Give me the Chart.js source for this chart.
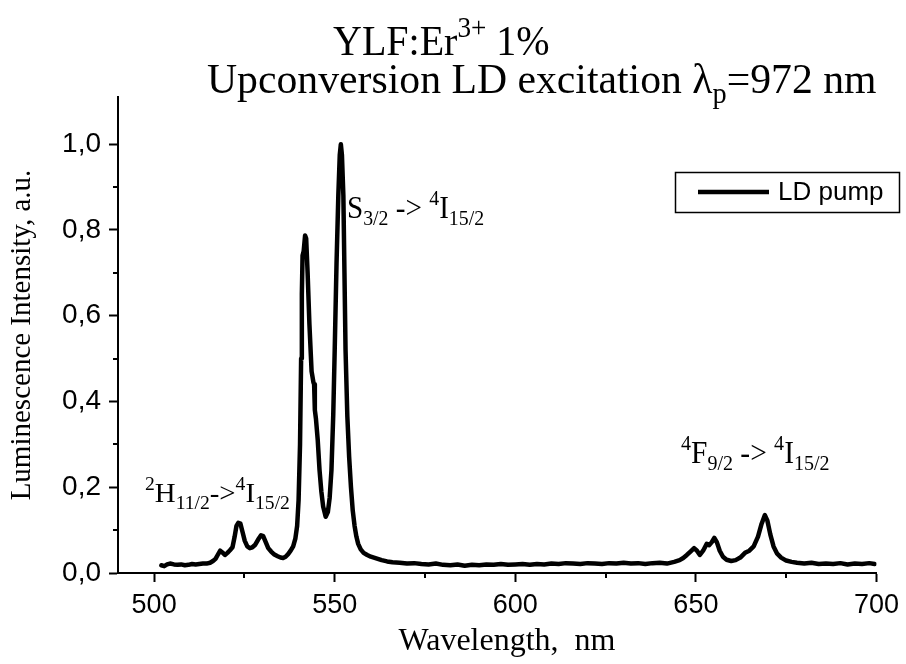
<!DOCTYPE html>
<html>
<head>
<meta charset="utf-8">
<title>YLF:Er 1% upconversion</title>
<script src="https://cdn.jsdelivr.net/npm/chart.js@4"></script>
<style>
  html, body { margin: 0; padding: 0; background: #fff; }
  #wrap { width: 906px; height: 664px; }
</style>
</head>
<body>
<div id="wrap"><canvas id="spectrum" width="906" height="664"></canvas></div>
<script>
// spectrum (nm, normalised intensity)
var wavelength = [
  502.0, 502.8, 503.6, 504.4, 505.5, 506.5, 507.5, 508.5, 509.5, 510.5,
  511.5, 512.5, 513.5, 514.5, 515.5, 516.3, 517.0, 517.6, 518.3, 518.9,
  519.6, 520.3, 521.0, 521.7, 522.3, 522.8, 523.3, 523.9, 524.5, 525.1,
  525.8, 526.5, 527.2, 528.0, 528.8, 529.6, 530.2, 530.9, 531.6, 532.4,
  533.3, 534.2, 535.0, 535.7, 536.4, 537.1, 537.8, 538.5, 539.1, 539.6,
  540.0, 540.4, 540.7, 540.9, 541.1, 541.4, 541.8, 542.1, 542.5, 543.0,
  543.6, 544.1, 544.3, 544.5, 544.8, 545.3, 545.8, 546.3, 546.8, 547.5,
  548.1, 548.6, 549.1, 549.6, 550.0, 550.5, 551.0, 551.4, 551.7, 552.0,
  552.4, 552.7, 553.0, 553.5, 554.0, 554.5, 555.0, 555.5, 556.0, 556.5,
  557.2, 558.0, 559.0, 560.0, 561.5, 563.0, 564.5, 566.0, 568, 570,
  572, 574, 576, 578, 580, 582, 584, 586, 588, 590,
  592, 594, 596, 598, 600, 602, 604, 606, 608, 610,
  612, 614, 616, 618, 620, 622, 624, 626, 628, 630,
  632, 634, 636, 638, 640, 642, 644, 645.5, 646.5, 647.5,
  648.5, 649.5, 650.3, 651.1, 652.0, 653.0, 653.7, 654.4, 655.1, 655.8,
  656.6, 657.5, 658.5, 659.8, 661.0, 662.3, 663.6, 664.8, 666.0, 667.2,
  668.2, 669.1, 669.8, 670.6, 671.5, 672.5, 673.6, 675.0, 676.5, 678,
  680, 682, 684, 686, 688, 690, 692, 694, 696, 698,
  699.5
];
var intensity = [
  0.018, 0.016, 0.020, 0.022, 0.020, 0.019, 0.020, 0.018, 0.019, 0.021,
  0.020, 0.021, 0.022, 0.022, 0.024, 0.028, 0.033, 0.042, 0.052, 0.048,
  0.042, 0.047, 0.053, 0.060, 0.085, 0.110, 0.117, 0.115, 0.095, 0.075,
  0.062, 0.058, 0.060, 0.066, 0.078, 0.088, 0.086, 0.072, 0.058, 0.050,
  0.043, 0.039, 0.036, 0.035, 0.038, 0.044, 0.052, 0.062, 0.080, 0.110,
  0.170, 0.300, 0.500, 0.650, 0.740, 0.750, 0.787, 0.780, 0.700, 0.580,
  0.470, 0.445, 0.440, 0.380, 0.360, 0.310, 0.240, 0.190, 0.155, 0.131,
  0.142, 0.175, 0.240, 0.370, 0.520, 0.720, 0.880, 0.975, 1.000, 0.975,
  0.880, 0.700, 0.520, 0.365, 0.270, 0.200, 0.145, 0.110, 0.085, 0.068,
  0.055, 0.047, 0.042, 0.038, 0.034, 0.030, 0.027, 0.025, 0.024, 0.022,
  0.023, 0.021, 0.020, 0.022, 0.019, 0.018, 0.020, 0.017, 0.019, 0.018,
  0.020, 0.019, 0.021, 0.019, 0.020, 0.021, 0.019, 0.021, 0.020, 0.022,
  0.021, 0.023, 0.022, 0.021, 0.023, 0.022, 0.021, 0.023, 0.022, 0.024,
  0.022, 0.023, 0.021, 0.023, 0.024, 0.022, 0.026, 0.030, 0.035, 0.042,
  0.050, 0.058, 0.052, 0.042, 0.052, 0.068, 0.065, 0.072, 0.082, 0.072,
  0.052, 0.038, 0.031, 0.028, 0.030, 0.036, 0.047, 0.052, 0.062, 0.085,
  0.115, 0.135, 0.122, 0.090, 0.062, 0.045, 0.036, 0.029, 0.026, 0.024,
  0.022, 0.024, 0.021, 0.022, 0.021, 0.023, 0.020, 0.022, 0.021, 0.023,
  0.021
];

var xMajorTicks = [500, 550, 600, 650, 700];
var xMinorTicks = [525, 575, 625, 675];
var yMajorTicks = [0, 0.2, 0.4, 0.6, 0.8, 1.0];
var yMinorTicks = [0.1, 0.3, 0.5, 0.7, 0.9];

var seriesName = "LD pump";
var xTitle = "Wavelength,  nm";
var yTitle = "Luminescence Intensity, a.u.";

// rich text pieces: [text, "n" | "sup" | "sub"]
var titleLine1 = [["YLF:Er", "n"], ["3+", "sup"], [" 1%", "n"]];
var titleLine2 = [["Upconversion LD excitation \u03bb", "n"], ["p", "sub"], ["=972 nm", "n"]];
var labelH = [["2", "sup"], ["H", "n"], ["11/2", "sub"], ["->", "n"], ["4", "sup"], ["I", "n"], ["15/2", "sub"]];
var labelS = [["S", "n"], ["3/2", "sub"], [" -> ", "n"], ["4", "sup"], ["I", "n"], ["15/2", "sub"]];
var labelF = [["4", "sup"], ["F", "n"], ["9/2", "sub"], [" -> ", "n"], ["4", "sup"], ["I", "n"], ["15/2", "sub"]];

var points = wavelength.map(function (w, i) {
  return { x: w, y: intensity[i] };
});

var serif = "'Liberation Serif', 'Times New Roman', serif";
var sans = "'Liberation Sans', Arial, sans-serif";

function drawRich(ctx, parts, x, y, size, sx) {
  ctx.save();
  ctx.translate(x, y);
  ctx.scale(sx, 1);
  ctx.fillStyle = "#000";
  ctx.textBaseline = "alphabetic";
  ctx.textAlign = "left";
  var cx = 0;
  parts.forEach(function (p) {
    var fs = size, dy = 0;
    if (p[1] === "sup") { fs = size * 0.68; dy = -size * 0.42; }
    if (p[1] === "sub") { fs = size * 0.68; dy = size * 0.24; }
    ctx.font = fs + "px " + serif;
    ctx.fillText(p[0], cx, dy);
    cx += ctx.measureText(p[0]).width;
  });
  ctx.restore();
}

var extras = {
  id: "extras",
  afterDraw: function (chart) {
    var ctx = chart.ctx;
    var xs = chart.scales.x, ys = chart.scales.y;

    // minor ticks
    ctx.save();
    ctx.strokeStyle = "#000";
    ctx.lineWidth = 2;
    ctx.beginPath();
    xMinorTicks.forEach(function (v) {
      var px = Math.round(xs.getPixelForValue(v));
      ctx.moveTo(px, ys.bottom);
      ctx.lineTo(px, ys.bottom + 5);
    });
    yMinorTicks.forEach(function (v) {
      var py = Math.round(ys.getPixelForValue(v));
      ctx.moveTo(xs.left, py);
      ctx.lineTo(xs.left - 5, py);
    });
    ctx.stroke();
    ctx.restore();

    // titles and transition labels
    drawRich(ctx, titleLine1, 333, 55, 43, 0.93);
    drawRich(ctx, titleLine2, 207, 93, 43, 0.97);
    drawRich(ctx, labelH, 145, 502, 28, 1.03);
    drawRich(ctx, labelS, 347, 218, 31, 0.94);
    drawRich(ctx, labelF, 681, 463, 31, 0.95);

    // x axis title
    ctx.save();
    ctx.fillStyle = "#000";
    ctx.font = "32px " + serif;
    ctx.textAlign = "center";
    ctx.textBaseline = "alphabetic";
    ctx.fillText(xTitle, 507, 650);
    ctx.restore();

    // legend box
    ctx.save();
    ctx.strokeStyle = "#000";
    ctx.lineWidth = 1.5;
    ctx.strokeRect(675.5, 172.5, 224, 40);
    ctx.lineWidth = 4.5;
    ctx.beginPath();
    ctx.moveTo(698, 192);
    ctx.lineTo(769, 192);
    ctx.stroke();
    ctx.fillStyle = "#000";
    ctx.font = "26px " + sans;
    ctx.textBaseline = "middle";
    ctx.fillText(seriesName, 778, 193);
    ctx.restore();
  }
};

new Chart(document.getElementById("spectrum").getContext("2d"), {
  type: "line",
  data: {
    datasets: [
      {
        label: seriesName,
        data: points,
        borderColor: "#000",
        borderWidth: 4.5,
        borderJoinStyle: "round",
        borderCapStyle: "round",
        pointRadius: 0,
        tension: 0,
        fill: false,
      },
    ],
  },
  options: {
    responsive: false,
    animation: false,
    layout: { padding: { top: 97, right: 27, left: 0, bottom: 0 } },
    plugins: {
      legend: { display: false },
      tooltip: { enabled: false },
    },
    scales: {
      x: {
        type: "linear",
        min: 490,
        max: 700,
        afterBuildTicks: function (s) {
          s.ticks = xMajorTicks.map(function (v) { return { value: v }; });
        },
        afterFit: function (s) { s.height = 91; },
        ticks: {
          color: "#000",
          font: { family: sans, size: 27 },
          padding: 7,
          maxRotation: 0,
          autoSkip: false,
        },
        grid: {
          drawOnChartArea: false,
          tickLength: 9,
          tickWidth: 2,
          tickColor: "#000",
        },
        border: { display: true, color: "#000", width: 2 },
      },
      y: {
        type: "linear",
        min: 0,
        max: 1.11,
        afterBuildTicks: function (s) {
          s.ticks = yMajorTicks.map(function (v) { return { value: v }; });
        },
        afterFit: function (s) { s.width = 118; },
        ticks: {
          color: "#000",
          font: { family: sans, size: 28 },
          padding: 8,
          callback: function (v) { return v.toFixed(1).replace(".", ","); },
        },
        grid: {
          drawOnChartArea: false,
          tickLength: 9,
          tickWidth: 2,
          tickColor: "#000",
        },
        border: { display: true, color: "#000", width: 2 },
        title: {
          display: true,
          text: yTitle,
          color: "#000",
          font: { family: serif, size: 29 },
          padding: { top: 5, bottom: 0 },
        },
      },
    },
  },
  plugins: [extras],
});
</script>
</body>
</html>
